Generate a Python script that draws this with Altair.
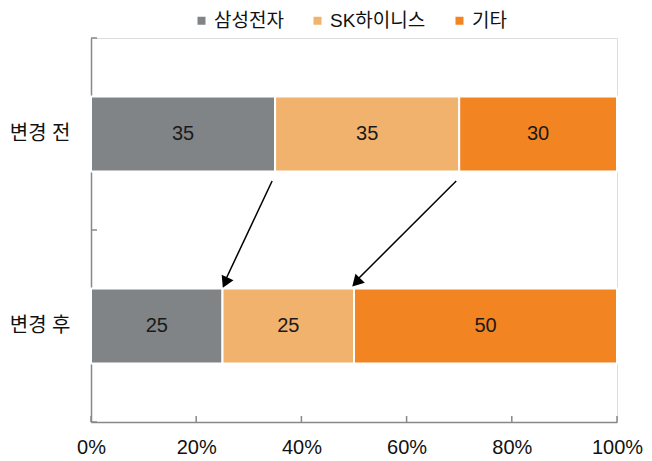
import altair as alt
import pandas as pd

categories = ["변경 전", "변경 후"]
series = ["삼성전자", "SK하이니스", "기타"]
before = [35, 35, 30]
after = [25, 25, 50]
colors = ["#818487", "#F0B26C", "#F38422"]
ticks = [0, 0.2, 0.4, 0.6, 0.8, 1.0]

FONT = "Liberation Sans, Noto Sans CJK KR"

rows = []
for cat, vals in zip(categories, [before, after]):
    total = sum(vals)
    cum = 0
    for i, (s, v) in enumerate(zip(series, vals)):
        start = cum / total
        cum += v
        end = cum / total
        rows.append({"cat": cat, "series": s, "order": i, "value": v,
                     "start": start, "end": end, "mid": (start + end) / 2})
df = pd.DataFrame(rows)

# arrows: boundary of before -> boundary of after
arrows = []
cb, ca = 0, 0
for k in range(2):
    cb += before[k]
    ca += after[k]
    arrows.append({"from_cat": categories[0], "to_cat": categories[1],
                   "x0": cb / sum(before), "x1": ca / sum(after)})
arr = pd.DataFrame(arrows)
arr["ang"] = [205, 224]

W, H = 526, 384

yscale = alt.Scale(domain=categories, paddingInner=0, paddingOuter=0)
xscale = alt.Scale(domain=[0, 1], nice=False)

bars = alt.Chart(df).mark_bar(size=75, stroke="white", strokeWidth=2).encode(
    y=alt.Y("cat:N", scale=yscale, sort=categories, title=None,
            axis=alt.Axis(ticks=False, labelPadding=21, labelFontSize=20,
                          labelColor="#111", domainColor="#888", domainWidth=1.5,
                          labelFont=FONT)),
    x=alt.X("start:Q", scale=xscale, title=None,
            axis=alt.Axis(format=".0%", values=ticks, ticks=False, labelPadding=15,
                          labelFontSize=20, labelColor="#111", domainColor="#888",
                          domainWidth=1.5, grid=False, labelFont=FONT,
                          labelFlush=False)),
    x2="end:Q",
    color=alt.Color("series:N", scale=alt.Scale(domain=series, range=colors),
                    sort=series, title=None,
                    legend=alt.Legend(orient="none", legendX=101, legendY=-27,
                                      direction="horizontal", symbolType="square",
                                      symbolSize=64, symbolStrokeWidth=0,
                                      labelFontSize=19, labelFont=FONT,
                                      labelColor="#111", columnPadding=24,
                                      labelOffset=3)),
)

labels = alt.Chart(df).mark_text(fontSize=20, color="#1a1a1a", font=FONT).encode(
    y=alt.Y("cat:N", scale=yscale, sort=categories),
    x=alt.X("mid:Q", scale=xscale),
    text=alt.Text("value:Q"),
)

tick_df = pd.DataFrame({"t": ticks})
xticks = alt.Chart(tick_df).mark_rule(color="#888", strokeWidth=1.5).encode(
    x=alt.X("t:Q", scale=xscale),
    y=alt.value(H),
    y2=alt.value(H - 6),
)

cat_df = pd.DataFrame({"cat": categories})
yticks_top = alt.Chart(cat_df).mark_rule(color="#888", strokeWidth=1.5).encode(
    y=alt.Y("cat:N", scale=yscale, sort=categories, bandPosition=0),
    x=alt.value(0),
    x2=alt.value(6),
)
yticks_bot = alt.Chart(cat_df.tail(1)).mark_rule(color="#888", strokeWidth=1.5).encode(
    y=alt.Y("cat:N", scale=yscale, sort=categories, bandPosition=1),
    x=alt.value(0),
    x2=alt.value(6),
)

arrow_lines = alt.Chart(arr).mark_rule(color="black", strokeWidth=1.5,
                                       xOffset=-3, yOffset=47,
                                       x2Offset=3, y2Offset=-46).encode(
    x=alt.X("x0:Q", scale=xscale),
    x2="x1:Q",
    y=alt.Y("from_cat:N", scale=yscale, sort=categories),
    y2="to_cat:N",
)

arrow_heads = alt.Chart(arr).mark_point(shape="triangle", filled=True, color="black",
                                        size=170, opacity=1,
                                        xOffset=3.5, yOffset=-45).encode(
    x=alt.X("x1:Q", scale=xscale),
    y=alt.Y("to_cat:N", scale=yscale, sort=categories),
    angle=alt.Angle("ang:Q", scale=None),
)

chart = alt.layer(bars, labels, xticks, yticks_top, yticks_bot, arrow_lines, arrow_heads).properties(
    width=W, height=H,
    autosize=alt.AutoSizeParams(type="none"),
    padding={"left": 83, "top": 30, "right": 27, "bottom": 39},
).configure_view(stroke=None).configure(background="white")

chart.save("out.html", embed_options={"renderer": "svg", "actions": False})
